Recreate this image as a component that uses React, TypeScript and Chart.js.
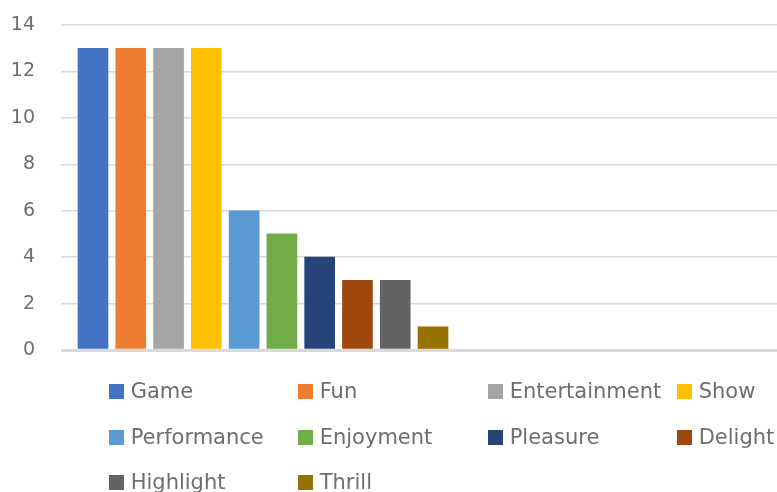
import React, { useEffect, useRef } from "react";
import { Chart, registerables } from "chart.js";

Chart.register(...registerables);

const seriesNames = [
  "Game",
  "Fun",
  "Entertainment",
  "Show",
  "Performance",
  "Enjoyment",
  "Pleasure",
  "Delight",
  "Highlight",
  "Thrill",
];
const seriesValues = [13, 13, 13, 13, 6, 5, 4, 3, 3, 1];
const seriesColors = [
  "#4472C4",
  "#ED7D31",
  "#A5A5A5",
  "#FFC000",
  "#5B9BD5",
  "#70AD47",
  "#264478",
  "#9E480E",
  "#636363",
  "#997300",
];
const yTicks = [0, 2, 4, 6, 8, 10, 12, 14];

const FONT = "'DejaVu Sans', sans-serif";
const TEXT_COLOR = "#6e6e6e";

export default function App() {
  const canvasRef = useRef<HTMLCanvasElement | null>(null);

  useEffect(() => {
    const canvas = canvasRef.current;
    if (!canvas) return;
    const chart = new Chart(canvas, {
      type: "bar",
      data: {
        datasets: seriesNames.map((name, i) => ({
          label: name,
          data: [{ x: i, y: seriesValues[i] }],
          backgroundColor: seriesColors[i],
          borderWidth: 0,
          grouped: false,
          barThickness: 30,
        })),
      },
      options: {
        animation: false,
        responsive: false,
        layout: { padding: { top: 25, bottom: 142, left: 0, right: 0 } },
        plugins: {
          legend: { display: false },
          tooltip: { enabled: false },
        },
        scales: {
          x: {
            type: "linear",
            display: false,
            offset: false,
            min: -0.847,
            max: 18.105,
          },
          y: {
            min: yTicks[0],
            max: yTicks[yTicks.length - 1],
            afterFit: (scale: any) => {
              scale.width = 61;
              scale.paddingTop = 0;
              scale.paddingBottom = 0;
            },
            afterBuildTicks: (scale: any) => {
              scale.ticks = yTicks.map((v) => ({ value: v }));
            },
            ticks: {
              stepSize: 2,
              padding: 26,
              color: TEXT_COLOR,
              font: { family: FONT, size: 19 },
            },
            grid: {
              drawTicks: false,
              color: "#d9d9d9",
              lineWidth: (ctx: any) => (ctx.tick && ctx.tick.value === 0 ? 3 : 1.5),
            },
            border: { display: false },
          },
        },
      },
    });
    return () => chart.destroy();
  }, []);

  const colX = [109, 298, 488, 677];
  const rowBaseline = [399, 444.5, 490];
  const perRow = 4;
  const legendPositions = [
    [0, 0], [0, 1], [0, 2], [0, 3],
    [1, 0], [1, 1], [1, 2], [1, 3],
    [2, 0], [2, 1],
  ];

  return (
    <div
      style={{
        position: "absolute",
        left: 0,
        top: 0,
        width: 777,
        height: 492,
        overflow: "hidden",
        background: "#ffffff",
      }}
    >
      <canvas
        ref={canvasRef}
        width={777}
        height={492}
        style={{ position: "absolute", left: 0, top: 0, width: 777, height: 492 }}
      />
      {seriesNames.map((name, i) => {
        const [r, c] = legendPositions[i] || [Math.floor(i / perRow), i % perRow];
        const x = colX[c];
        const base = rowBaseline[r];
        return (
          <React.Fragment key={name}>
            <div
              style={{
                position: "absolute",
                left: x,
                top: base - 15,
                width: 15,
                height: 15,
                background: seriesColors[i],
              }}
            />
            <div
              style={{
                position: "absolute",
                left: x + 21.7,
                top: base - 17.8,
                fontFamily: FONT,
                fontSize: 21,
                lineHeight: "21px",
                color: TEXT_COLOR,
                whiteSpace: "nowrap",
              }}
            >
              {name}
            </div>
          </React.Fragment>
        );
      })}
    </div>
  );
}
